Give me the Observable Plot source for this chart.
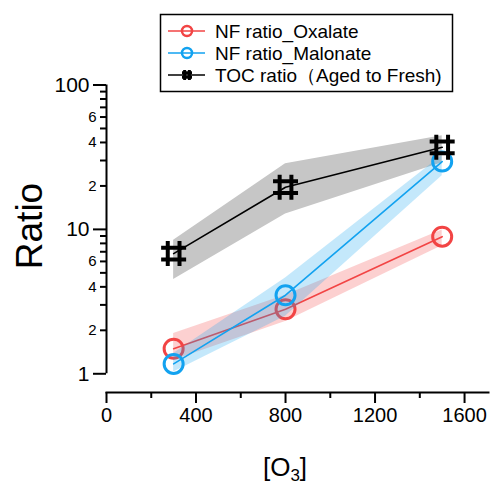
<!DOCTYPE html>
<html>
<head>
<meta charset="utf-8">
<script src="https://cdn.jsdelivr.net/npm/d3@7"></script>
<script src="https://cdn.jsdelivr.net/npm/@observablehq/plot@0.6"></script>
<style>
  html, body { margin: 0; padding: 0; background: #fff; }
  #chart { width: 492px; height: 487px; position: relative; }
  svg { font-family: "Liberation Sans", Arial, sans-serif; }
</style>
</head>
<body>
<div id="chart"></div>
<script>
// ---- data ----
const o3 = [300, 800, 1500];
const oxalate   = [1.49, 2.8, 8.9];
const oxalateLo = [1.24, 2.3, 7.7];
const oxalateHi = [1.9, 3.5, 9.9];
const malonate   = [1.17, 3.5, 29.5];
const malonateLo = [1.03, 2.5, 23.5];
const malonateHi = [1.38, 4.6, 32.5];
const toc   = [6.8, 19.6, 37];
const tocLo = [4.5, 12.8, 29];
const tocHi = [8.4, 28.5, 44.5];

const seriesNames = ["NF ratio_Oxalate", "NF ratio_Malonate", "TOC ratio（Aged to Fresh)"];
const xTicks = [0, 400, 800, 1200, 1600];
const xMinorTicks = [200, 600, 1000, 1400];
const yMajorTicks = [1, 10, 100];
const yMinorLabeled = [2, 4, 6, 20, 40, 60];
const yMinorUnlabeled = [3, 5, 7, 8, 9, 30, 50, 70, 80, 90];

const RED = "#f24444";
const BLUE = "#12a2f0";

const mk = (ys, lo, hi) => o3.map((x, i) => ({x, y: ys[i], lo: lo[i], hi: hi[i]}));
const oxData = mk(oxalate, oxalateLo, oxalateHi);
const maData = mk(malonate, malonateLo, malonateHi);
const tocData = mk(toc, tocLo, tocHi);

const hashSymbol = {
  draw(ctx, size) {
    const r = Math.sqrt(size / Math.PI);
    const L = r, o = r * 0.47;
    ctx.moveTo(-o, -L); ctx.lineTo(-o, L);
    ctx.moveTo(o, -L); ctx.lineTo(o, L);
    ctx.moveTo(-L, -o); ctx.lineTo(L, -o);
    ctx.moveTo(-L, o); ctx.lineTo(L, o);
  }
};

const firstDigit = d => String(d).charAt(0);

const chart = Plot.plot({
  width: 492,
  height: 487,
  marginLeft: 106,
  marginRight: 4,
  marginTop: 84.5,
  marginBottom: 95,
  style: {fontFamily: "'Liberation Sans', Arial, sans-serif", color: "#000", background: "#fff"},
  x: {domain: [0, 1707]},
  y: {type: "log", domain: [0.742, 100]},
  marks: [
    // bands
    Plot.areaY(tocData, {x: "x", y1: "lo", y2: "hi", fill: "#c6c6c6"}),
    Plot.lineY(tocData, {x: "x", y: "y", stroke: "#000", strokeWidth: 1.6}),
    Plot.areaY(oxData, {x: "x", y1: "lo", y2: "hi", fill: RED, fillOpacity: 0.25}),
    Plot.lineY(oxData, {x: "x", y: "y", stroke: RED, strokeWidth: 1.6}),
    Plot.dot(oxData, {x: "x", y: "y", r: 9.5, stroke: RED, strokeWidth: 3, fill: "none"}),
    Plot.areaY(maData, {x: "x", y1: "lo", y2: "hi", fill: BLUE, fillOpacity: 0.25}),
    Plot.lineY(maData, {x: "x", y: "y", stroke: BLUE, strokeWidth: 1.6}),
    Plot.dot(maData, {x: "x", y: "y", r: 9.5, stroke: BLUE, strokeWidth: 3, fill: "none"}),
    Plot.dot(tocData, {x: "x", y: "y", r: 12.5, symbol: hashSymbol, stroke: "#000", strokeWidth: 4, fill: "none"}),
    // axes
    Plot.frame({anchor: "bottom", strokeWidth: 2}),
    Plot.ruleX([0], {y1: 1, y2: 100, strokeWidth: 2}),
    Plot.axisX(xTicks, {tickSize: 11, tickPadding: 4, fontSize: 20, strokeWidth: 2, text: d => String(d), label: null}),
    Plot.axisX(xMinorTicks, {tickSize: 6, text: () => "", strokeWidth: 2, label: null}),
    Plot.axisY(yMajorTicks, {tickSize: 13, tickPadding: 4, fontSize: 21, strokeWidth: 2, text: d => String(d), label: null}),
    Plot.axisY(yMinorLabeled, {tickSize: 6, tickPadding: 4, fontSize: 15, strokeWidth: 2, text: firstDigit, label: null}),
    Plot.axisY(yMinorUnlabeled, {tickSize: 6, text: () => "", strokeWidth: 2, label: null})
  ]
});

document.getElementById("chart").appendChild(chart);

const svg = d3.select(chart);
const xs = chart.scale("x");

// y axis title
svg.append("text")
  .attr("transform", "translate(42,226) rotate(-90)")
  .attr("text-anchor", "middle")
  .attr("font-size", 37)
  .attr("fill", "#000")
  .text("Ratio");

// x axis title [O3]
const xt = svg.append("text")
  .attr("x", xs.apply(800))
  .attr("y", 476)
  .attr("text-anchor", "middle")
  .attr("font-size", 26)
  .attr("fill", "#000");
xt.append("tspan").text("[O");
xt.append("tspan").attr("font-size", 17).attr("dy", 5).text("3");
xt.append("tspan").attr("dy", -5).text("]");

// legend
const lg = svg.append("g").attr("text-anchor", "start");
lg.append("rect").attr("x", 160.5).attr("y", 14.5).attr("width", 292).attr("height", 77)
  .attr("fill", "#fff").attr("stroke", "#000").attr("stroke-width", 1.5);
const colors = [RED, BLUE, "#000"];
seriesNames.forEach((name, i) => {
  const cy = 31 + i * 22;
  lg.append("line").attr("x1", 168).attr("x2", 205).attr("y1", cy).attr("y2", cy)
    .attr("stroke", colors[i]).attr("stroke-width", 1.6);
  if (i < 2) {
    lg.append("circle").attr("cx", 187).attr("cy", cy).attr("r", 5)
      .attr("fill", "none").attr("stroke", colors[i]).attr("stroke-width", 2.5);
  } else {
    lg.append("path").attr("transform", `translate(187,${cy})`)
      .attr("d", d3.symbol(hashSymbol, Math.PI * 25)())
      .attr("fill", "none").attr("stroke", "#000").attr("stroke-width", 3);
  }
  lg.append("text").attr("x", 215).attr("y", cy + 7).attr("text-anchor", "start")
    .attr("font-size", 19).attr("fill", "#000").text(name);
});
</script>
</body>
</html>
